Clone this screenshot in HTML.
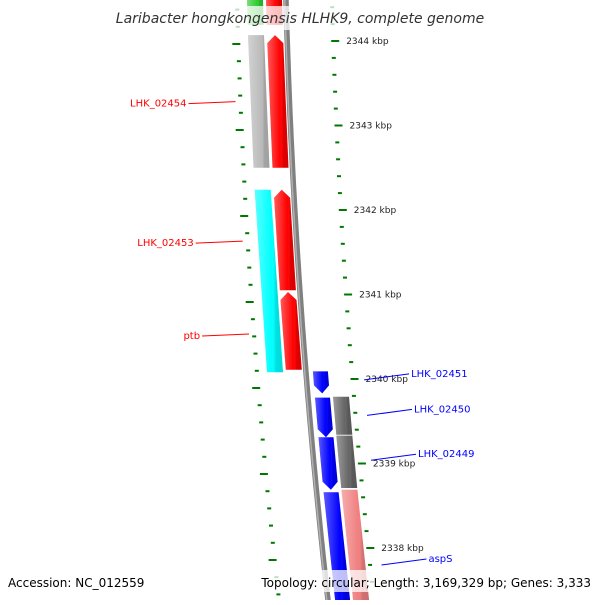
<!DOCTYPE html>
<html><head><meta charset="utf-8"><style>
html,body{margin:0;padding:0;background:#fff;}
svg text{font-family:"DejaVu Sans","Liberation Sans",sans-serif;}
</style></head><body>
<svg id="map" width="600" height="600" viewBox="0 0 600 600" xmlns="http://www.w3.org/2000/svg">
<defs>
<linearGradient id="shade" x1="0" x2="1" y1="0" y2="0">
<stop offset="0" stop-color="#fff" stop-opacity="0.35"/>
<stop offset="0.6" stop-color="#fff" stop-opacity="0"/>
<stop offset="0.75" stop-color="#000" stop-opacity="0.12"/>
<stop offset="1" stop-color="#000" stop-opacity="0.15"/>
</linearGradient>
</defs>
<g id="features"></g>
<g id="backbone"></g>
<g id="ticks"></g>
<g id="labels"></g>
<rect x="110" y="6" width="380" height="24" fill="#fff" fill-opacity="0.75"/>
<text x="300" y="23" text-anchor="middle" font-size="14" font-style="italic" fill="#333">Laribacter hongkongensis HLHK9, complete genome</text>
<rect x="0" y="570" width="600" height="22" fill="#fff" fill-opacity="0.75"/>
<text x="8" y="587" font-size="12" fill="#000">Accession: NC_012559</text>
<text x="591" y="587" text-anchor="end" font-size="12" fill="#000">Topology: circular; Length: 3,169,329 bp; Genes: 3,333</text>
</svg>
<script>
// genome coordinates in kbp
const featStart = [2344.49, 2344.49, 2344.07, 2344.07, 2342.24, 2342.24, 2341.03, 2340.09, 2339.78, 2339.31, 2338.66, 2339.79, 2339.33, 2338.69];
const featEnd   = [2344.19, 2344.19, 2342.50, 2342.50, 2340.08, 2341.05, 2340.11, 2339.83, 2339.31, 2338.69, 2337.30, 2339.34, 2338.71, 2337.30];
const featTrack = ["LO","LI","LO","LI","LO","LI","LI","RI","RI","RI","RI","RO","RO","RO"];
const featArrow = ["none","none","none","up","none","up","up","down","down","down","none","none","none","none"];
const featColor = ["#33cc33","#ff0000","#bbbbbb","#ff0000","#00ffff","#ff0000","#ff0000","#0000ff","#0000ff","#0000ff","#0000ff","#666666","#666666","#f08080"];
const rulerKbp = [2338,2339,2340,2341,2342,2343,2344];
const rulerLabels = ["2338 kbp","2339 kbp","2340 kbp","2341 kbp","2342 kbp","2343 kbp","2344 kbp"];
const geneNames = ["LHK_02454","LHK_02453","ptb","LHK_02451","LHK_02450","LHK_02449","aspS"];
const geneKbp = [2343.27, 2341.62, 2340.52, 2340.06, 2339.64, 2339.11, 2337.87];
const geneSide = ["L","L","L","R","R","R","R"];
const geneColor = ["#ff0000","#ff0000","#ff0000","#0000ff","#0000ff","#0000ff","#0000ff"];

const NS="http://www.w3.org/2000/svg";
function yOf(k){return 41+(2344-k)*84.5;}
function xb(y){return 286+0.0269*y+7.18e-5*y*y;}
const trackOff={LO:[-39,-23],LI:[-20,-4],RI:[7,22],RO:[25,41]};
function mk(tag,attrs,parent){const e=document.createElementNS(NS,tag);for(const k in attrs)e.setAttribute(k,attrs[k]);parent.appendChild(e);return e;}

const fg=document.getElementById('features');
for(let i=0;i<featStart.length;i++){
  let y1=Math.max(-5,yOf(featStart[i])), y2=Math.min(605,yOf(featEnd[i]));
  const [o1,o2]=trackOff[featTrack[i]];
  const a=8, pts=[];
  const P=(o,y)=>pts.push((xb(y)+o).toFixed(1)+','+y.toFixed(1));
  if(featArrow[i]==='up'){P(o1,y1+a);P((o1+o2)/2,y1);P(o2,y1+a);}else{P(o1,y1);P(o2,y1);}
  if(featArrow[i]==='down'){P(o2,y2-a);P((o1+o2)/2,y2);P(o1,y2-a);}else{P(o2,y2);P(o1,y2);}
  const g=mk('g',{},fg);
  
  
  mk('polygon',{points:pts.join(' '),fill:featColor[i]},g);
  mk('polygon',{points:pts.join(' '),fill:'url(#shade)'},g);
}
// backbone
const bb=document.getElementById('backbone');
let bp=[];for(let y=-5;y<=605;y+=10)bp.push(xb(y).toFixed(1)+','+y);
mk('polyline',{points:bp.join(' '),fill:'none',stroke:'#808080',"stroke-width":5.5},bb);
let bp2=[];for(let y=-5;y<=605;y+=10)bp2.push((xb(y)-1.2).toFixed(1)+','+y);
mk('polyline',{points:bp2.join(' '),fill:'none',stroke:'#b0b0b0',"stroke-width":1.5},bb);
// ticks
const tg=document.getElementById('ticks');
for(let s=0;s<=35;s++){
  const k=2344.6-s*0.2; const major=Math.abs(k-Math.round(k))<0.01;
  const yr=yOf(k), yl=44+(2344-k)*86;
  const len=major?8:4;
  const xr=xb(yr)+44, xl=xb(yl)-47;
  const r=mk('rect',{x:(xr).toFixed(1),y:(yr-1).toFixed(1),width:len,height:2,fill:'#007700'},tg);
  
  
  const l=mk('rect',{x:(xl-len).toFixed(1),y:(yl-1).toFixed(1),width:len,height:2,fill:'#007700'},tg);
  
  
}
for(let i=0;i<rulerKbp.length;i++){
  const y=yOf(rulerKbp[i]);
  const t=mk('text',{x:(xb(y)+59).toFixed(1),y:(y+3).toFixed(1),"font-size":9,fill:'#222'},tg);
  
  
  t.textContent=rulerLabels[i];
}
// gene labels
const lg=document.getElementById('labels');
for(let i=0;i<geneNames.length;i++){
  const y=yOf(geneKbp[i]);
  let t;
  if(geneSide[i]==='L'){
    const x2=xb(y)-54;
    mk('line',{x1:x2-47,y1:y+1,x2:x2,y2:y-1,stroke:geneColor[i]},lg);
    t=mk('text',{x:x2-49,y:y+4,"text-anchor":'end',"font-size":10,fill:geneColor[i]},lg);
  }else{
    const x1=xb(y)+58;
    mk('line',{x1:x1,y1:y+6,x2:x1+45,y2:y,stroke:geneColor[i]},lg);
    t=mk('text',{x:x1+47,y:y+3,"font-size":10,fill:geneColor[i]},lg);
  }
  
  
  t.textContent=geneNames[i];
}
</script>
</body></html>
